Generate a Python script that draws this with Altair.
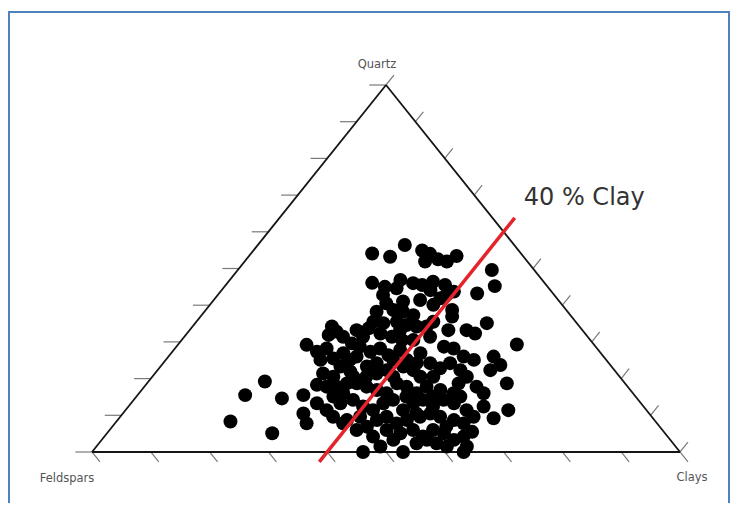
import altair as alt
import pandas as pd

# ---- data (percent) ----
quartz = [54.1, 53.2, 56.4, 54.9, 54.0, 51.9, 52.5, 51.9, 53.4, 49.6,
          45.2, 43.2, 46.1, 45.0, 42.8, 46.9, 44.6, 46.0, 45.5, 44.1,
          46.4, 45.5, 43.7, 42.8, 41.9, 41.0, 40.1, 38.7, 36.9, 38.2,
          38.7, 38.2, 37.3, 35.5, 35.1, 35.5, 34.6, 34.2, 34.2, 35.5,
          34.2, 32.8, 31.9, 31.4, 29.2, 27.3, 28.2, 29.6, 31.4, 33.7,
          32.3, 31.4, 30.5, 30.5, 31.4, 33.2, 33.2, 32.3, 35.1, 29.3,
          25.1, 25.5, 26.9, 26.0, 27.3, 28.2, 26.4, 27.8, 26.9, 28.7,
          28.2, 26.0, 25.1, 26.0, 23.7, 22.3, 18.7, 24.2, 22.8, 24.2,
          22.3, 23.3, 25.1, 23.3, 21.9, 20.5, 23.3, 21.4, 22.3, 20.5,
          20.5, 22.3, 20.5, 17.8, 16.0, 12.4, 9.2, 11.4, 18.7, 16.0,
          15.1, 16.9, 17.8, 16.0, 17.8, 18.7, 16.0, 16.9, 17.8, 18.7,
          18.7, 17.8, 17.8, 18.3, 15.1, 16.0, 13.3, 14.2, 12.4, 13.3,
          15.5, 14.6, 19.2, 15.5, 8.3, 5.1, 10.5, 7.8, 11.4, 9.6,
          8.7, 9.6, 11.4, 13.3, 14.2, 11.4, 13.3, 14.2, 12.4, 14.2,
          13.3, 11.4, 9.6, 7.8, 8.7, 9.6, 10.5, 9.6, 8.7, 7.8,
          9.6, 8.7, 6.9, 4.2, 6.0, 5.1, 6.0, 4.2, 6.0, 5.1,
          3.3, 4.2, 5.5, 1.5, 0.0, 1.5, 2.4, 3.3, 2.4, 0.0,
          0.0, 1.5, 3.3, 6.0, 7.8,
          33.2, 25.1, 20.5, 25.1, 24.2, 20.5, 28.7, 24.2, 21.4, 15.1,
          15.1, 10.5, 6.9, 40.5, 41.4, 20.5, 33.2]

clay = [20.6, 24.1, 25.0, 28.7, 30.5, 30.7, 32.6, 34.4, 35.3, 43.2,
        45.9, 43.9, 24.6, 27.3, 28.1, 29.0, 29.5, 31.6, 33.4, 35.5,
        34.8, 37.3, 39.7, 38.9, 38.3, 32.4, 38.0, 41.9, 42.8, 29.3,
        31.9, 33.8, 36.0, 30.1, 32.0, 34.1, 36.2, 38.1, 39.8, 40.3,
        23.7, 25.2, 24.3, 27.0, 21.9, 24.6, 25.8, 29.4, 30.4, 30.2,
        32.9, 35.3, 37.5, 39.4, 41.8, 44.0, 47.1, 49.0, 49.6, 57.6,
        26.3, 28.3, 29.3, 32.0, 33.7, 34.9, 37.2, 38.5, 42.4, 45.5,
        47.4, 50.2, 52.4, 55.3, 57.6, 56.6, 61.2, 48.8, 47.8, 45.4,
        43.5, 41.3, 38.7, 30.6, 33.0, 30.8, 35.1, 37.7, 39.0, 45.6,
        47.8, 51.5, 53.5, 56.5, 58.6, 60.4, 63.7, 65.1, 53.0, 53.5,
        55.1, 50.8, 48.0, 47.2, 44.6, 42.5, 42.1, 40.0, 37.8, 35.7,
        34.0, 32.7, 31.0, 29.1, 33.5, 34.7, 35.6, 37.3, 39.9, 31.6,
        28.2, 25.0, 19.8, 18.3, 19.4, 28.1, 30.7, 32.6, 34.2, 36.2,
        39.0, 40.8, 42.1, 42.9, 44.1, 47.2, 48.0, 49.2, 51.8, 52.7,
        54.9, 58.0, 60.1, 59.3, 57.2, 54.4, 52.3, 51.0, 49.2, 47.9,
        45.3, 44.1, 43.3, 45.7, 47.1, 49.9, 51.6, 54.2, 55.0, 57.3,
        59.9, 61.1, 61.9, 63.0, 63.2, 59.6, 57.4, 55.3, 54.0, 52.9,
        46.1, 48.3, 49.6, 42.0, 38.8,
        28.4, 31.3, 36.4, 41.0, 43.1, 41.0, 31.2, 36.3, 28.6, 45.9,
        50.4, 49.9, 56.8, 29.8, 35.1, 34.2, 35.8]

tick_values = list(range(0, 101, 10))
vertex_names = ["Feldspars", "Clays", "Quartz"]
vertex_quartz = [0, 0, 100]
vertex_clay = [0, 100, 0]
clay_line_value = 40
clay_line_quartz_range = [-2.7, 63.8]
clay_label = "40 % Clay"

# ---- helpers ----
def tern_xy(q, c):
    return (c + q / 2.0) / 100.0, q / 100.0

n = min(len(quartz), len(clay))
pts = pd.DataFrame({"Quartz": quartz[:n], "Clays": clay[:n]})
pts["Feldspars"] = 100 - pts["Quartz"] - pts["Clays"]

W, H = 722, 495
xs = alt.Scale(domain=[-0.142857, 1.085034], nice=False, zero=False)
ys = alt.Scale(domain=[-0.138965, 1.209809], nice=False, zero=False)

# triangle edges
verts = [tern_xy(q, c) for q, c in zip(vertex_quartz, vertex_clay)]
edges = pd.DataFrame([
    {"x": verts[i][0], "y": verts[i][1],
     "x2": verts[(i + 1) % 3][0], "y2": verts[(i + 1) % 3][1]}
    for i in range(3)
])

# ticks
L = 0.027
rows = []
for t in tick_values:
    x, y = tern_xy(t, 0)            # left edge (quartz)
    rows.append({"x": x, "y": y, "x2": x - L * 1.05, "y2": y})
    x, y = tern_xy(0, t)            # base (clays)
    rows.append({"x": x, "y": y, "x2": x + L / 2, "y2": y - L})
    x, y = tern_xy(t, 100 - t)      # right edge
    rows.append({"x": x, "y": y, "x2": x + L / 2, "y2": y + L})
ticks = pd.DataFrame(rows)

# 40% clay line
q1, q2 = clay_line_quartz_range
lx1, ly1 = tern_xy(q1, clay_line_value)
lx2, ly2 = tern_xy(q2, clay_line_value)
redline = pd.DataFrame([{"x": lx1, "y": ly1, "x2": lx2, "y2": ly2}])

def seg(df, color, width):
    return alt.Chart(df).mark_rule(color=color, strokeWidth=width).encode(
        x=alt.X("x:Q", scale=xs, axis=None),
        y=alt.Y("y:Q", scale=ys, axis=None),
        x2="x2:Q", y2="y2:Q",
    )

edge_layer = seg(edges, "#151515", 1.8)
tick_layer = seg(ticks, "#7a7a7a", 1.2)
red_layer = seg(redline, "#e3242b", 3.5)

dots = alt.Chart(pts).transform_calculate(
    x="(datum.Clays + datum.Quartz / 2) / 100",
    y="datum.Quartz / 100",
).mark_circle(size=195, color="black", opacity=1).encode(
    x=alt.X("x:Q", scale=xs, axis=None),
    y=alt.Y("y:Q", scale=ys, axis=None),
)

def vlabel(i, dx, dy):
    x, y = verts[i]
    df = pd.DataFrame([{"x": x, "y": y, "t": vertex_names[i]}])
    return alt.Chart(df).mark_text(
        font="DejaVu Sans", fontSize=11.5, color="#555555",
        dx=dx, dy=dy, align="center", baseline="middle",
    ).encode(
        x=alt.X("x:Q", scale=xs, axis=None),
        y=alt.Y("y:Q", scale=ys, axis=None),
        text="t:N",
    )

lab_f = vlabel(0, -25, 27)
lab_c = vlabel(1, 12, 26)
lab_q = vlabel(2, -9, -20)

clay_text = alt.Chart(pd.DataFrame([{"x": lx2, "y": ly2, "t": clay_label}])).mark_text(
    font="DejaVu Sans", fontSize=24, color="#333333",
    align="left", baseline="alphabetic", dx=9, dy=-13,
).encode(
    x=alt.X("x:Q", scale=xs, axis=None),
    y=alt.Y("y:Q", scale=ys, axis=None),
    text="t:N",
)

one = alt.Data(values=[{}])
bcol = "#4f81bd"
border_left = alt.Chart(one).mark_rule(color=bcol, strokeWidth=2).encode(
    x=alt.value(1), y=alt.value(4), y2=alt.value(H))
border_top = alt.Chart(one).mark_rule(color=bcol, strokeWidth=2).encode(
    x=alt.value(0), x2=alt.value(722), y=alt.value(4))
border_right = alt.Chart(one).mark_rule(color=bcol, strokeWidth=2).encode(
    x=alt.value(721), y=alt.value(4), y2=alt.value(H))

chart = alt.layer(
    border_left, border_top, border_right,
    tick_layer, edge_layer, dots, red_layer,
    lab_f, lab_c, lab_q, clay_text,
).properties(
    width=W, height=H,
    autosize=alt.AutoSizeParams(type="none"),
    padding=0,
    background="white",
).configure_view(stroke=None)

chart.save("out.html", embed_options={"renderer": "svg", "actions": False})
